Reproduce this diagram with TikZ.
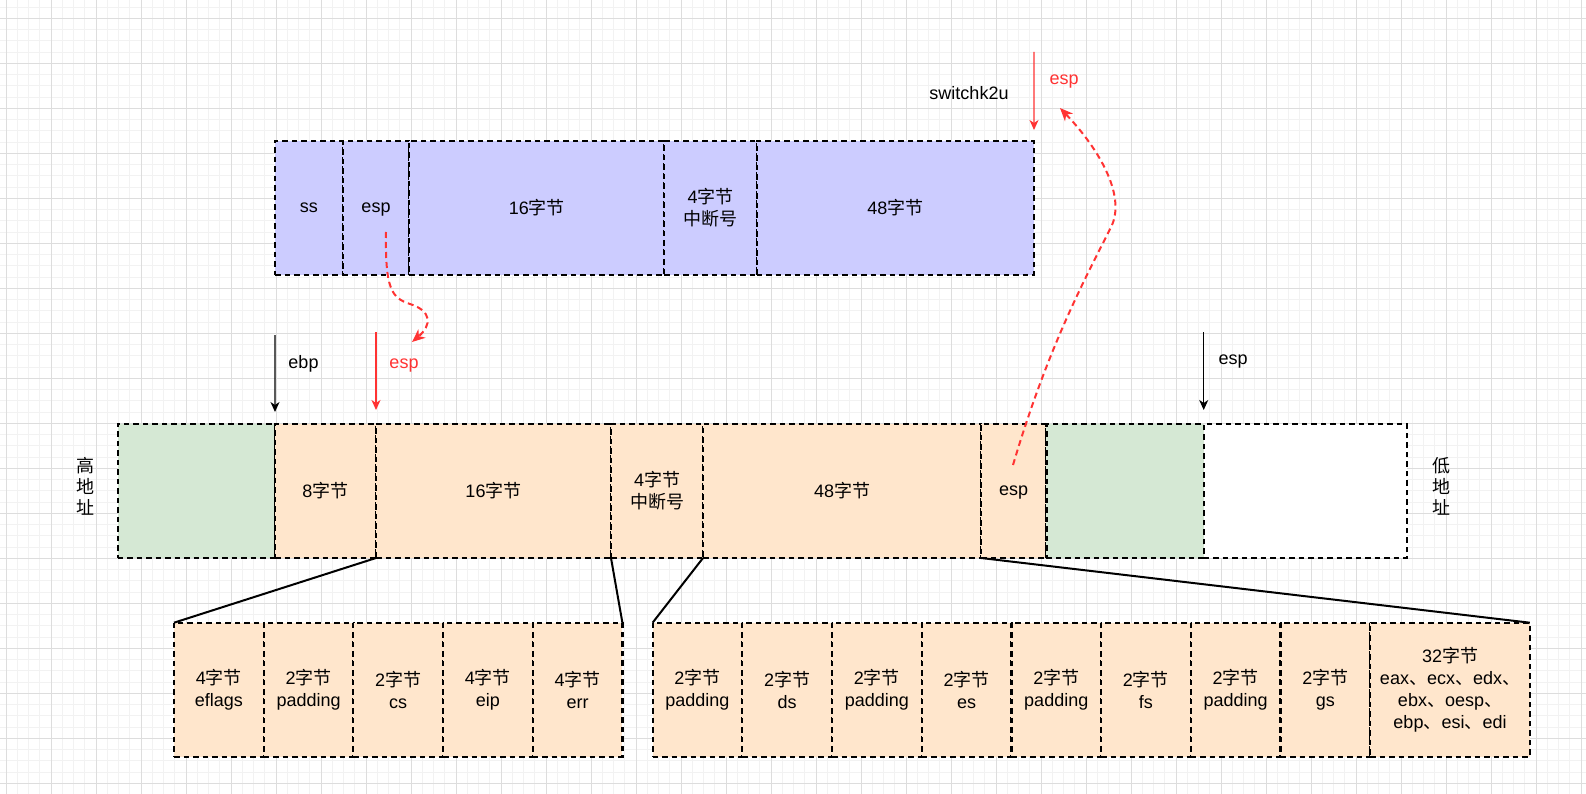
\documentclass[tikz,border=0pt]{standalone}
\usepackage{fontspec}
\setmainfont{Liberation Sans}
\newfontfamily\cjk{Noto Sans CJK SC}
\usetikzlibrary{arrows.meta}
\newcommand{\zh}[1]{{\cjk #1}}
\definecolor{purplebox}{HTML}{CCCCFF}
\definecolor{orangebox}{HTML}{FFE6CC}
\definecolor{greenbox}{HTML}{D5E8D4}
\definecolor{espred}{HTML}{FF3333}
\definecolor{gridminor}{HTML}{F2F2F2}
\definecolor{gridmajor}{HTML}{DDDDDD}

\begin{document}
\begin{tikzpicture}[x=1pt, y=-1pt, font=\fontsize{18}{22}\selectfont]
\tikzstyle{cell} = [draw=black, line width=2.2pt, dash pattern=on 5.5pt off 4pt, anchor=north west, inner sep=0pt, outer sep=0pt, minimum height=134pt, align=center]
\tikzstyle{tbox} = [cell, fill=purplebox]
\tikzstyle{sbox} = [cell, fill=orangebox]
\tikzstyle{gbox} = [cell, fill=greenbox]
\tikzstyle{wbox} = [cell, fill=white]
\tikzstyle{latin} = [text height=13pt, text depth=4pt]
\tikzstyle{ptr} = [line width=1.3pt, -{Stealth[length=10pt, width=9pt, inset=3pt]}]
\tikzstyle{redptr} = [ptr, draw=espred]
\tikzstyle{hop} = [draw=espred, line width=2pt, dash pattern=on 6pt off 4pt, -{Stealth[length=13pt, width=11pt, inset=4pt]}]
\tikzstyle{link} = [line width=2pt]

\useasboundingbox (0,0) rectangle (1586,794);
\fill[white] (0,0) rectangle (1586,794);
\foreach \i in {0,...,140} \draw[gridminor, line width=1pt] ({6+11.25*\i},0) -- ({6+11.25*\i},794);
\foreach \i in {0,...,69} \draw[gridminor, line width=1pt] (0,{7.05+11.25*\i}) -- (1586,{7.05+11.25*\i});
\foreach \i in {0,...,35} \draw[gridmajor, line width=1pt] ({6+45*\i},0) -- ({6+45*\i},794);
\foreach \i in {0,...,17} \draw[gridmajor, line width=1pt] (0,{18.3+45*\i}) -- (1586,{18.3+45*\i});

\node[tbox, latin, minimum width=67.7pt] (tss) at (275,141) {ss};
\node[tbox, latin, minimum width=66.6pt] (tesp) at (342.7,141) {esp};
\node[tbox, minimum width=255pt] (t16) at (409.3,141) {16\zh{字节}};
\node[tbox, minimum width=92.4pt] (tint) at (664.3,141) {4\zh{字节}\\\zh{中断号}};
\node[tbox, minimum width=277.3pt] (t48) at (756.7,141) {48\zh{字节}};

\node[gbox, minimum width=157.3pt] (g1) at (117.7,424) {};
\node[sbox, minimum width=101pt] (m8) at (275,424) {8\zh{字节}};
\node[sbox, minimum width=235pt] (m16) at (376,424) {16\zh{字节}};
\node[sbox, minimum width=92pt] (mint) at (611,424) {4\zh{字节}\\\zh{中断号}};
\node[sbox, minimum width=278pt] (m48) at (703,424) {48\zh{字节}};
\node[sbox, latin, minimum width=65.4pt] (mesp) at (981,424) {esp};
\node[gbox, minimum width=157.3pt] (g2) at (1046.4,424) {};
\node[wbox, minimum width=203.3pt] (free) at (1203.7,424) {};

\node[sbox, minimum width=89.7pt] (eflags) at (174,622.7) {4\zh{字节}\\eflags};
\node[sbox, minimum width=89.7pt] (pad1) at (263.7,622.7) {2\zh{字节}\\padding};
\node[sbox, minimum width=89.7pt] (cs) at (353.3,622.7) {2\zh{字节}\\cs};
\node[sbox, minimum width=89.7pt] (eip) at (443,622.7) {4\zh{字节}\\eip};
\node[sbox, minimum width=89.7pt] (err) at (532.7,622.7) {4\zh{字节}\\err};

\node[sbox, minimum width=89.7pt] (pad2) at (652.6,622.7) {2\zh{字节}\\padding};
\node[sbox, minimum width=89.7pt] (ds) at (742.3,622.7) {2\zh{字节}\\ds};
\node[sbox, minimum width=89.7pt] (pad3) at (832,622.7) {2\zh{字节}\\padding};
\node[sbox, minimum width=89.7pt] (es) at (921.7,622.7) {2\zh{字节}\\es};
\node[sbox, minimum width=89.7pt] (pad4) at (1011.4,622.7) {2\zh{字节}\\padding};
\node[sbox, minimum width=89.7pt] (fs) at (1101.1,622.7) {2\zh{字节}\\fs};
\node[sbox, minimum width=89.7pt] (pad5) at (1190.8,622.7) {2\zh{字节}\\padding};
\node[sbox, minimum width=89.7pt] (gs) at (1280.5,622.7) {2\zh{字节}\\gs};
\node[sbox, minimum width=159.6pt] (regs) at (1370.2,622.7) {32\zh{字节}\\eax\zh{、}ecx\zh{、}edx\zh{、}\\ebx\zh{、}oesp\zh{、}\\ebp\zh{、}esi\zh{、}edi};

\node[align=center, font=\fontsize{18}{21}\selectfont\cjk] (high) at (85,486) {高\\地\\址};
\node[align=center, font=\fontsize{18}{21}\selectfont\cjk] (low) at (1441,486) {低\\地\\址};

\coordinate (ebp0) at (275,335);
\coordinate (esp0) at (376,332);
\coordinate (esp1) at (1203.7,332);
\coordinate (esp2) at (1034,52);
\node[latin] (ebplbl) at (303.5,364) {ebp};
\node[latin, text=espred] (esplbl) at (404,364) {esp};
\node[latin] (esp1lbl) at (1233,360) {esp};
\node[latin, text=espred] (esp2lbl) at (1064,80) {esp};
\node[latin] (sw) at (969,95) {switchk2u};

\draw[ptr] (ebp0) -- (g1.north east) [shorten >=12pt];
\draw[redptr] (esp0) -- (m16.north west) [shorten >=14pt];
\draw[ptr] (esp1) -- (free.north west) [shorten >=14pt];
\draw[redptr] (esp2) -- (t48.north east) [shorten >=11pt];

\draw[link] (m16.south west) -- (eflags.north west);
\draw[link] (m16.south east) -- (err.north east);
\draw[link] (m48.south west) -- (pad2.north west);
\draw[link] (mesp.south west) -- (regs.north east);

\coordinate (hop1a) at (386,232);
\coordinate (hop1b) at (412,342);
\coordinate (hop2a) at (1013,465);
\coordinate (hop2b) at (1060,108);
\draw[hop] (hop1a) .. controls (385,290) and (392,298) .. (410,304) .. controls (432,311) and (432,325) .. (hop1b);
\draw[hop] (hop2a) .. controls (1050,340) and (1090,270) .. (1112,225) .. controls (1125,195) and (1100,150) .. (hop2b);
\end{tikzpicture}
\end{document}
